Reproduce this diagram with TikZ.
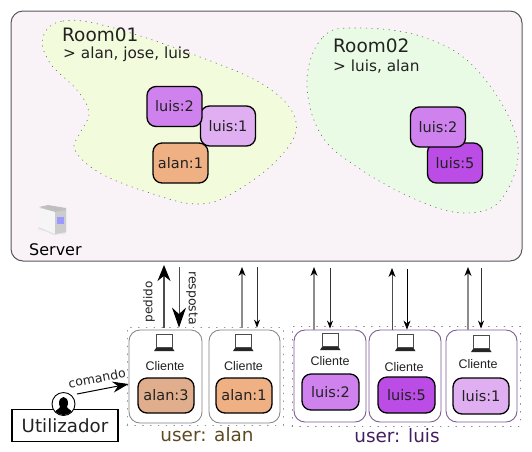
\documentclass[tikz,border=0pt]{standalone}
\usepackage{fontspec}
\setmainfont{DejaVu Sans}
\newfontfamily\arialish{Liberation Sans}
\usetikzlibrary{arrows.meta}
\definecolor{srvfill}{HTML}{F9F3F8}
\definecolor{roomA}{HTML}{F3FBDD}
\definecolor{roomB}{HTML}{E9FBE5}
\definecolor{lA}{HTML}{E0AFF2}
\definecolor{lB}{HTML}{CF82EE}
\definecolor{lE}{HTML}{BB4CE5}
\definecolor{aA}{HTML}{EFB083}
\definecolor{aC}{HTML}{E0AE8C}
\definecolor{brownT}{HTML}{5E4A22}
\definecolor{purpleT}{HTML}{431E60}
\definecolor{purpleB}{HTML}{7C5C92}
\definecolor{txt}{HTML}{222222}
\tikzset{
  session/.style={draw=black,line width=1.3pt,rounded corners=9pt,minimum width=55pt,minimum height=40pt,inner sep=0pt,font=\fontsize{14.5}{16}\selectfont,text=txt},
  clientA/.style={draw=black!50,line width=0.8pt,rounded corners=11pt,inner sep=0pt},
  clientL/.style={draw=purpleB,line width=0.9pt,rounded corners=11pt,inner sep=0pt},
  clientlabel/.style={font=\arialish\fontsize{12.5}{14}\selectfont,text=txt,inner sep=0pt},
  roomline/.style={draw=black!55,line width=0.7pt,dash pattern=on 0.7pt off 5pt,line cap=round},
  groupline/.style={line width=0.8pt,dash pattern=on 0.8pt off 7pt,line cap=round},
  title/.style={font=\fontsize{18.5}{20}\selectfont,text=txt,anchor=base west,inner sep=0pt},
  subtitle/.style={font=\fontsize{15.3}{17}\selectfont,text=txt,anchor=base west,inner sep=0pt},
  upthin/.style={draw=black!45,line width=1.1pt,-{Stealth[length=9pt,width=7pt,black]}},
  downthin/.style={draw=black!80,line width=0.8pt,-{Stealth[length=8pt,width=6pt,black]}},
}
\newcommand{\laptopicon}[2]{%
  \fill[black!70] (#1-8,#2-8) rectangle (#1+8.5,#2+6);
  \fill[white] (#1-7.3,#2-7.3) rectangle (#1+7.8,#2+5);
  \fill[black!85] (#1-8,#2+6) -- (#1+8.5,#2+6) -- (#1+10.5,#2+9) -- (#1-10,#2+9) -- cycle;
}
\begin{document}
\begin{tikzpicture}[x=1pt,y=-1pt]
\useasboundingbox (0,0) rectangle (532,451);
% server
\node[draw=black!65,line width=1pt,fill=srvfill,rounded corners=12pt,minimum width=511pt,minimum height=250pt,inner sep=0pt] (server) at (266.5,136) {};
% rooms
\path[fill=roomA,roomline] plot[smooth cycle,tension=0.65] coordinates {(43,37) (63,21) (110,27) (200,57) (267,87) (296,122) (280,157) (233,193) (197,204) (150,193) (100,173) (75,150) (80,133) (89,113) (77,90) (50,63)};
\path[fill=roomB,roomline] plot[smooth cycle,tension=0.65] coordinates {(307,80) (323,37) (357,28) (423,37) (477,70) (517,140) (503,197) (467,213) (417,200) (357,167) (320,133)};
\node[title] (r1t) at (62,41) {Room01};
\node[subtitle] (r1s) at (63,58) {> alan, jose, luis};
\node[title] (r2t) at (333,52) {Room02};
\node[subtitle] (r2s) at (333,71) {> luis, alan};
% room sessions
\node[session,fill=lA] (ra1) at (228,126) {luis:1};
\node[session,fill=lB] (ra2) at (174.5,106.5) {luis:2};
\node[session,fill=aA] (ra3) at (180.5,163) {alan:1};
\node[session,fill=lE] (rb2) at (455,163) {luis:5};
\node[session,fill=lB] (rb1) at (438,127) {luis:2};
% server icon
\fill[black!8] (38,227) -- (64,233) -- (66,235) -- (38,230) -- cycle;
\fill[black!12] (39,208) -- (59,209) -- (66,212) -- (66,233) -- (54,235) -- (39,228) -- cycle;
\fill[black!25] (39,207) -- (48,205) -- (66,208) -- (66,212) -- (55,212) -- cycle;
\fill[black!4] (39,208) -- (55,212) -- (55,234) -- (39,227) -- cycle;
\fill[black!20] (55,212) -- (66,210) -- (66,232) -- (55,234) -- cycle;
\fill[blue!40!white] (57,217) rectangle (64,224);
\node[font=\fontsize{16}{18}\selectfont,text=black,anchor=base west,inner sep=0pt] (srvlabel) at (29,255) {Server};
% user groups
\node[groupline,draw=teal!50!black!50,minimum width=156pt,minimum height=98pt,inner sep=0pt] (galan) at (205,376) {};
\node[groupline,draw=purpleB!80,minimum width=228pt,minimum height=100pt,inner sep=0pt] (gluis) at (406,376) {};
% clients
\node[clientA,fill=white,minimum width=73pt,minimum height=93pt] (c1) at (165.5,376.5) {};
\node[clientA,fill=white,minimum width=71pt,minimum height=93pt] (c2) at (244.5,376.5) {};
\node[clientL,fill=white,minimum width=72pt,minimum height=92pt] (c3) at (330,376) {};
\node[clientL,fill=white,minimum width=72pt,minimum height=92pt] (c4) at (405,376) {};
\node[clientL,fill=white,minimum width=71pt,minimum height=92pt] (c5) at (481.5,376) {};
\laptopicon{164}{342}
\laptopicon{243}{342}
\laptopicon{330}{341}
\laptopicon{405}{342}
\laptopicon{481}{343}
\node[clientlabel] (cl1) at (165,366) {Cliente};
\node[clientlabel] (cl2) at (243.5,366) {Cliente};
\node[clientlabel] (cl3) at (330,361) {Cliente};
\node[clientlabel] (cl4) at (404,367) {Cliente};
\node[clientlabel] (cl5) at (478,364) {Cliente};
\node[session,fill=aC,minimum width=56pt,minimum height=35pt] (s1) at (166,395.5) {alan:3};
\node[session,fill=aA,minimum width=56pt,minimum height=35pt] (s2) at (244,395.5) {alan:1};
\node[session,fill=lB,minimum width=57pt,minimum height=36pt] (s3) at (330.5,392) {luis:2};
\node[session,fill=lE,minimum width=57pt,minimum height=36pt] (s4) at (406.5,395) {luis:5};
\node[session,fill=lA,minimum width=56pt,minimum height=36pt] (s5) at (481,396) {luis:1};
\node[font=\fontsize{18.4}{20}\selectfont,text=brownT,inner sep=0pt,anchor=base] (ualan) at (207,441) {user: alan};
\node[font=\fontsize{18.4}{20}\selectfont,text=purpleT,inner sep=0pt,anchor=base] (uluis) at (397,442) {user: luis};
% connectors
\coordinate (p1) at (164,265); \coordinate (q1) at (179,267);
\coordinate (p2) at (242,267); \coordinate (q2) at (257,267);
\coordinate (p3) at (314,267); \coordinate (q3) at (330,268);
\coordinate (p4) at (392,268); \coordinate (q4) at (407,269);
\coordinate (p5) at (468,267); \coordinate (q5) at (481,268);
\draw[draw=black!70,line width=1.6pt,-{Stealth[length=16pt,width=13pt,black]}] (p1 |- c1.north) ++(0,-2) -- (p1);
\draw[draw=black!70,line width=1pt,-{Stealth[length=20pt,width=14pt,black]}] (q1) -- ([yshift=2pt]q1 |- c1.north);
\draw[upthin] (p2 |- c2.north) ++(0,-2) -- (p2);
\draw[downthin] (q2) -- ([yshift=2pt]q2 |- c2.north);
\draw[upthin] (p3 |- c3.north) -- (p3);
\draw[downthin] (q3) -- ([yshift=1pt]q3 |- c3.north);
\draw[draw=black!70,line width=0.8pt,-{Stealth[length=9pt,width=7pt,black]}] (p4 |- c4.north) -- (p4);
\draw[draw=black,line width=0.8pt,-{Stealth[length=9pt,width=7pt,black]}] (q4) -- (q4 |- c4.north);
\draw[upthin] (p5 |- c5.north) -- (p5);
\draw[downthin] (q5) -- ([yshift=1pt]q5 |- c5.north);
\node[font=\fontsize{12}{14}\selectfont,text=txt,rotate=90,inner sep=0pt] (lp) at (149,302) {pedido};
\node[font=\fontsize{12.5}{14}\selectfont,text=txt,rotate=-90,inner sep=0pt] (lr) at (192,298) {resposta};
% user
\node[draw=black,line width=1.1pt,fill=white,minimum width=106pt,minimum height=32pt,inner sep=0pt,font=\fontsize{18.2}{20}\selectfont,text=txt] (util) at (65,425.5) {Utilizador};
\node[circle,draw=black,line width=0.9pt,fill=white,minimum size=23pt,inner sep=0pt] (person) at (63.5,404) {};
\begin{scope}
\clip (63.5,404) circle (11pt);
\fill[black] (63.5,403) ellipse (4.5pt and 6pt);
\fill[black] (53,417) .. controls (53,410) and (59,410) .. (61,406) -- (66,406) .. controls (68,410) and (74,410) .. (74,417) -- cycle;
\end{scope}
\coordinate (cmdstart) at (77,394);
\draw[draw=black,line width=1pt,-{Stealth[length=16pt,width=11pt,black]}] (cmdstart) -- (c1.west |- 0,384);
\node[font=\fontsize{12.5}{14}\selectfont,text=txt,rotate=11,inner sep=0pt] (lc) at (97,378) {comando};
\end{tikzpicture}
\end{document}
